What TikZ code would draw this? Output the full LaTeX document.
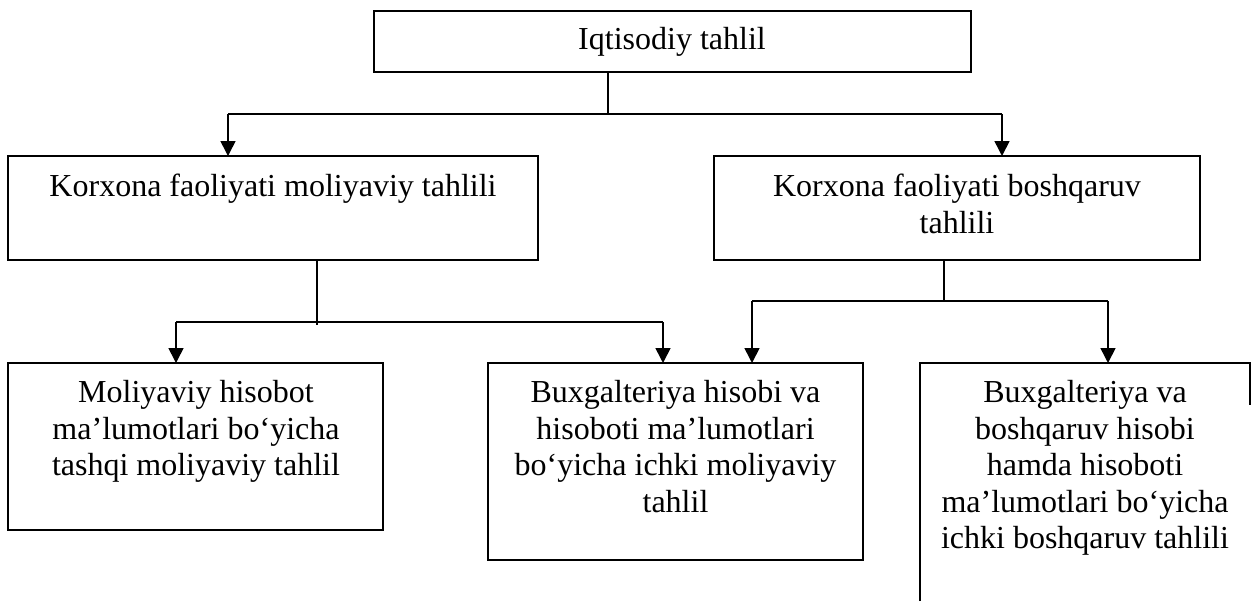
\documentclass[tikz,border=0pt]{standalone}
\usepackage{fontspec}
\setmainfont{Liberation Serif}
\usetikzlibrary{arrows.meta}

\begin{document}
\begin{tikzpicture}[x=0.5pt,y=-0.5pt,
  boxline/.style={draw=black,line width=1pt},
  box/.style={boxline,rectangle,inner sep=0pt,outer sep=0pt},
  label/.style={inner sep=0pt,outer sep=0pt,align=center,anchor=north,
    font=\fontsize{16}{18.25}\selectfont},
  link/.style={draw=black,line width=0.8pt},
  arrow/.style={link,-{Triangle[width=7.5pt,length=7.5pt]}}
]
\useasboundingbox (0,0) rectangle (1251,601);

% boxes
\node[box,minimum width=298.5pt,minimum height=30.5pt] (top) at (672.5,41.5) {};
\node[box,minimum width=265pt,minimum height=52pt] (fin) at (273,208) {};
\node[box,minimum width=243pt,minimum height=52pt] (mgmt) at (957,208) {};
\node[box,minimum width=187.5pt,minimum height=83.5pt] (ext) at (195.5,446.5) {};
\node[box,minimum width=187.5pt,minimum height=98.5pt] (intfin) at (675.5,461.5) {};
\node[inner sep=0pt,outer sep=0pt,minimum width=165pt,minimum height=119pt] (intmgmt) at (1085,482) {};
\draw[boxline] (intmgmt.south west) -- (intmgmt.north west) -- (intmgmt.north east) -- ++(0,42);

% texts (first baseline sits 25.6px below each node's top)
\node[label] (ttop) at (672,24.4) {\strut Iqtisodiy tahlil};
\node[label] (tfin) at (273,171.4) {\strut Korxona faoliyati moliyaviy tahlili};
\node[label] (tmgmt) at (957,171.4) {\strut Korxona faoliyati boshqaruv\\tahlili};
\node[label] (text) at (196,377.4) {\strut Moliyaviy hisobot\\ma’lumotlari bo‘yicha\\tashqi moliyaviy tahlil};
\node[label] (tintfin) at (675.5,377.4) {\strut Buxgalteriya hisobi va\\hisoboti ma’lumotlari\\bo‘yicha ichki moliyaviy\\tahlil};
\node[label] (tintmgmt) at (1085,377.4) {\strut Buxgalteriya va\\boshqaruv hisobi\\hamda hisoboti\\ma’lumotlari bo‘yicha\\ichki boshqaruv tahlili};

% connectors from the top box
\coordinate (j0) at (608,114);
\coordinate (a1) at (228,114);
\coordinate (a2) at (1002,114);
\draw[link] (j0 |- top.south) -- (j0);
\draw[link] (a1) -- (a2);
\draw[arrow] (a1) -- (a1 |- fin.north);
\draw[arrow] (a2) -- (a2 |- mgmt.north);

% connectors from the financial analysis box
\coordinate (j1) at (317,322);
\coordinate (b1) at (176,322);
\coordinate (b2) at (663,322);
\draw[link] (j1 |- fin.south) -- ([yshift=-1.5pt]j1);
\draw[link] (b1) -- (b2);
\draw[arrow] (b1) -- (b1 |- ext.north);
\draw[arrow] (b2) -- (b2 |- intfin.north);

% connectors from the management analysis box
\coordinate (j2) at (944,301);
\coordinate (c1) at (752,301);
\coordinate (c2) at (1108,301);
\draw[link] (j2 |- mgmt.south) -- (j2);
\draw[link] (c1) -- (c2);
\draw[arrow] (c1) -- (c1 |- intfin.north);
\draw[arrow] (c2) -- (c2 |- intmgmt.north);
\end{tikzpicture}
\end{document}
